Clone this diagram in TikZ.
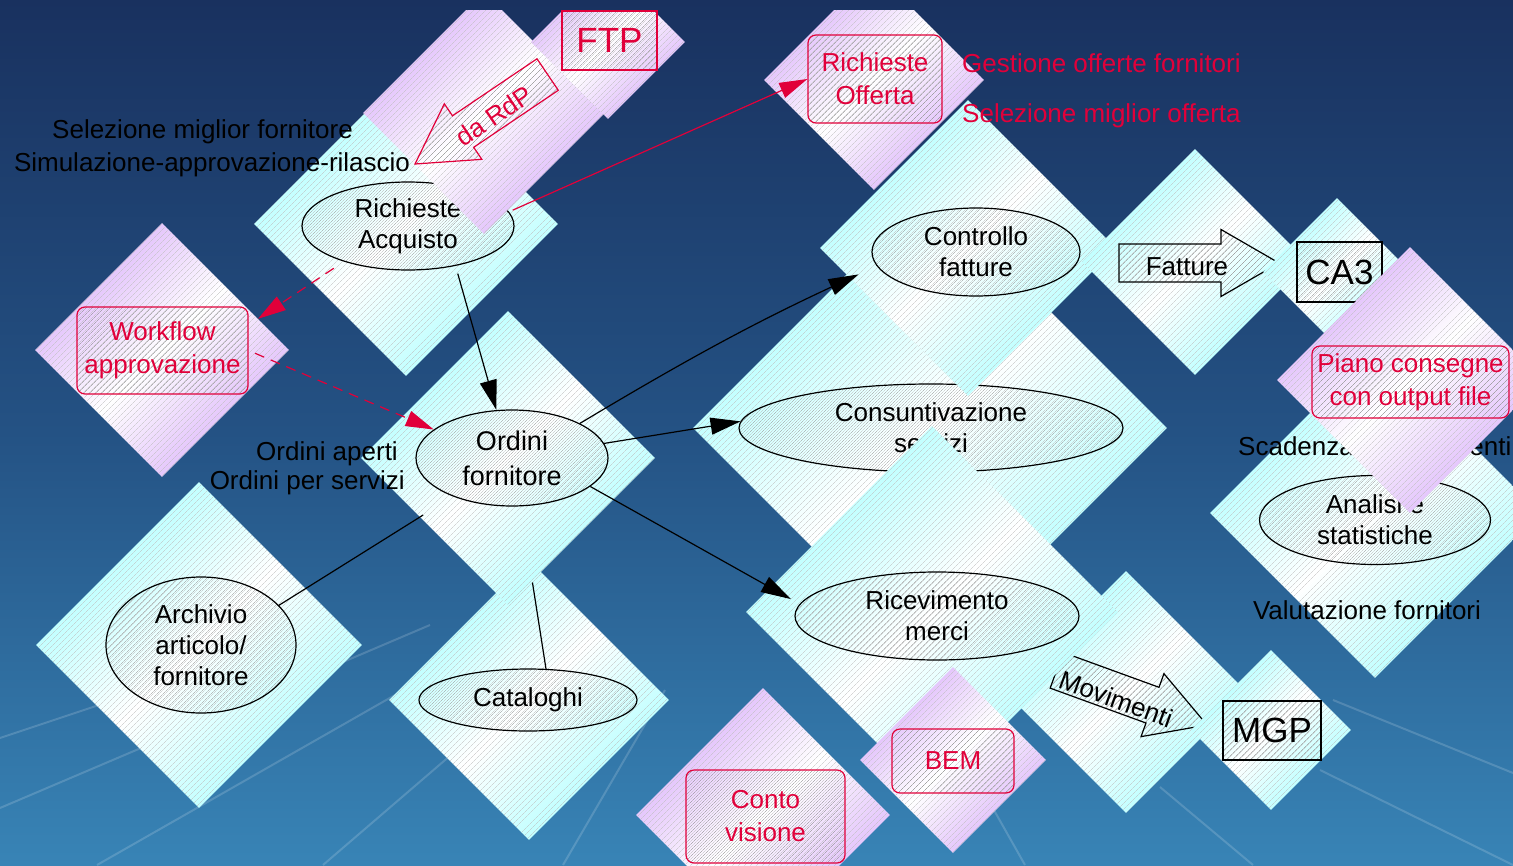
\documentclass[tikz,border=0pt]{standalone}
\usepackage{fontspec}
\setmainfont{Liberation Sans}
\usetikzlibrary{shapes.geometric,arrows.meta,patterns.meta,positioning}

\definecolor{crim}{RGB}{225,0,58}
\definecolor{aqua}{RGB}{170,255,255}
\definecolor{lilac}{RGB}{218,176,250}
\definecolor{skytop}{RGB}{25,49,95}
\definecolor{skymid}{RGB}{36,82,132}
\definecolor{skybot}{RGB}{56,132,182}

\tikzset{
  hatch/.style={pattern={Lines[angle=45,distance=4pt,line width=.4pt]}, pattern color=#1},
  cyandia/.style={diamond, inner sep=0pt, minimum size=#1, shade, top color=aqua, bottom color=aqua, middle color=white, shading angle=45, postaction={hatch=black!25}},
  lilacdia/.style={diamond, inner sep=0pt, minimum size=#1, shade, top color=lilac, bottom color=lilac, middle color=white, shading angle=45, postaction={hatch=black!25}},
  oval/.style={ellipse, draw, line width=1.2pt, hatch=black!40, align=center, inner sep=0pt},
  redbox/.style={rectangle, rounded corners=8pt, draw=crim, line width=1.2pt, hatch=black!45, text=crim, align=center, inner sep=0pt, font=\fontsize{26}{33}\selectfont},
  blkbox/.style={rectangle, draw, line width=1.2pt, hatch=black!45, inner sep=0pt, font=\fontsize{35}{40}\selectfont},
  txt/.style={inner sep=0pt, align=center},
  blkarrow/.style={-{Triangle[length=30pt,width=17pt]}, line width=1.2pt},
  redarrow/.style={crim, -{Triangle[length=28pt,width=16pt]}, line width=1.2pt},
  reddash/.style={redarrow, dash pattern=on 10pt off 7pt}
}

\begin{document}
\begin{tikzpicture}[x=1pt, y=-1pt, font=\fontsize{26}{31}\selectfont]
\shade[top color=skytop, bottom color=skybot, middle color=skymid] (0,0) rectangle (1513,865);
\useasboundingbox (0,0) rectangle (1513,865);
% streaks of the backdrop
\foreach \xa/\ya/\xb/\yb in {0/738/330/628, 0/808/430/625, 97/865/430/675, 323/865/480/730, 563/865/665/690,
    960/750/1025/865, 1160/787/1253/865, 1320/770/1513/865, 1333/700/1513/773}
  \draw[white, opacity=.16, line width=2pt] (\xa,\ya) -- (\xb,\yb);

\begin{scope}
\clip (0,10) rectangle (1513,865);

% archivio
\node[cyandia=326pt] (dArch) at (199,645) {};
\node[oval, minimum width=190pt, minimum height=136pt] (eArch) at (201,645) {Archivio\\articolo/\\fornitore};

% cataloghi
\node[cyandia=280pt] (dCat) at (529,700) {};
\node[oval, minimum width=218pt, minimum height=62pt] (eCat) at (528,700) {Cataloghi};

% ordini
\node[cyandia=294pt] (dOrd) at (508,458) {};
\node[oval, minimum width=192pt, minimum height=96pt, font=\fontsize{27}{35}\selectfont] (eOrd) at (512,458) {Ordini\\fornitore};

% richieste di acquisto
\node[cyandia=304pt] (dRA) at (406,224) {};
\node[oval, minimum width=212pt, minimum height=88pt] (eRA) at (408,226) {Richieste\\Acquisto};

% da RdP / FTP
\node[lilacdia=242pt] (mRdP) at (484,113) {};
\node[lilacdia=154pt] (mFTP) at (608,42) {};
\node[redbox, sharp corners, minimum width=95pt, minimum height=59pt, font=\fontsize{35}{40}\selectfont] (bFTP) at (609.5,40.5) {FTP};
\begin{scope}[shift={(415,164)}, rotate=34]
  \draw[crim, line width=1.2pt, hatch=black!45] (0,0) -- (58,-33.5) -- (58,-19) -- (160,-19) -- (160,19) -- (58,19) -- (58,33.5) -- cycle;
\end{scope}
\node[txt, text=crim, rotate=34] (tRdP) at (494,116) {da RdP};

% workflow
\node[lilacdia=254pt] (mWf) at (162,350) {};
\node[redbox, minimum width=171pt, minimum height=87pt] (bWf) at (162.5,350.5) {Workflow\\approvazione};

% consuntivazione
\node[cyandia=474pt] (dCons) at (930,428) {};
\node[oval, minimum width=384pt, minimum height=88pt] (eCons) at (931,428) {Consuntivazione\\servizi};

% controllo fatture
\node[cyandia=296pt] (dCtrl) at (968,248) {};
\node[oval, minimum width=208pt, minimum height=88pt] (eCtrl) at (976,252) {Controllo\\fatture};

% richieste offerta
\node[lilacdia=220pt] (mOff) at (874,80) {};
\node[redbox, minimum width=134pt, minimum height=88pt] (bOff) at (875,79) {Richieste\\Offerta};

% fatture
\node[cyandia=226pt] (dFat) at (1195,262) {};
\begin{scope}[shift={(1279,263)}]
  \draw[line width=1.2pt, hatch=black!45] (0,0) -- (-58,-33.5) -- (-58,-19) -- (-160,-19) -- (-160,19) -- (-58,19) -- (-58,33.5) -- cycle;
\end{scope}
\node[txt] (tFat) at (1187,267) {Fatture};

% CA3
\node[cyandia=148pt] (dCA3) at (1337,272) {};
\node[blkbox, minimum width=85pt, minimum height=60pt] (bCA3) at (1339.5,272) {CA3};

% analisi
\node[cyandia=330pt] (dAna) at (1375,513) {};
\node[oval, minimum width=231pt, minimum height=89pt] (eAna) at (1375,520) {Analisi e\\statistiche};
\node[txt, anchor=west] (tScad) at (1238,449) {Scadenzario pagamenti};
\node[txt] (tVal) at (1367,610) {Valutazione fornitori};

% piano consegne
\node[lilacdia=266pt] (mPiano) at (1410,380) {};
\node[redbox, minimum width=197pt, minimum height=72pt] (bPiano) at (1410.5,382) {Piano consegne\\con output file};

% movimenti
\node[cyandia=242pt] (dMov) at (1126,692) {};
\begin{scope}[shift={(1207,725)}, rotate=-20]
  \draw[line width=1.2pt, hatch=black!45] (0,0) -- (-58,-33.5) -- (-58,-19) -- (-160,-19) -- (-160,19) -- (-58,19) -- (-58,33.5) -- cycle;
\end{scope}
\node[txt, rotate=-20] (tMov) at (1116,699) {Movimenti};

% MGP
\node[cyandia=160pt] (dMGP) at (1271,730) {};
\node[blkbox, minimum width=98pt, minimum height=59pt] (bMGP) at (1272,730.5) {MGP};

% ricevimento
\node[cyandia=372pt] (dRic) at (932,612) {};
\node[oval, minimum width=284pt, minimum height=88pt] (eRic) at (937,616) {Ricevimento\\merci};

% BEM
\node[lilacdia=186pt] (mBEM) at (953,760) {};
\node[redbox, minimum width=122pt, minimum height=64pt] (bBEM) at (953,761) {BEM};

% conto visione
\node[lilacdia=254pt] (mConto) at (763,815) {};
\node[redbox, minimum width=159pt, minimum height=93pt] (bConto) at (765.5,816.5) {Conto\\visione};

% free texts
\node[txt] (tSelF) at (202.5,132) {Selezione miglior fornitore};
\node[txt] (tSim) at (212,165) {Simulazione-approvazione-rilascio};
\node[txt, anchor=east] (tOA) at (398,454) {Ordini aperti};
\node[txt, anchor=east] (tOS) at (405,483) {Ordini per servizi};
\node[txt, text=crim, anchor=west] (tGes) at (962,63) {Gestione offerte fornitori};
\node[txt, text=crim, anchor=west] (tSelO) at (962,116) {Selezione miglior offerta};

% connectors
\draw[blkarrow, shorten <=8pt] (eRA.-40) -- (eOrd.108);
\draw[blkarrow, shorten >=20pt] (eOrd.27) to[bend left=3] (eCtrl.188);
\draw[blkarrow] (eOrd.9) -- (eCons.178);
\draw[blkarrow, shorten >=10pt] (eOrd.-20) -- (eRic.175);
\draw[line width=1.2pt, shorten >=35pt] (eArch.27) -- (eOrd.213);
\draw[line width=1.2pt, shorten <=77pt] (eOrd.-80) -- (eCat.60);
\draw[redarrow, shorten <=4pt] (eRA.8) -- (bOff.west);
\draw[reddash, shorten <=12pt] (eRA.209) -- (mWf.18);
\draw[reddash, shorten <=7pt] (bWf.east) -- (eOrd.160);
\end{scope}
\end{tikzpicture}
\end{document}
